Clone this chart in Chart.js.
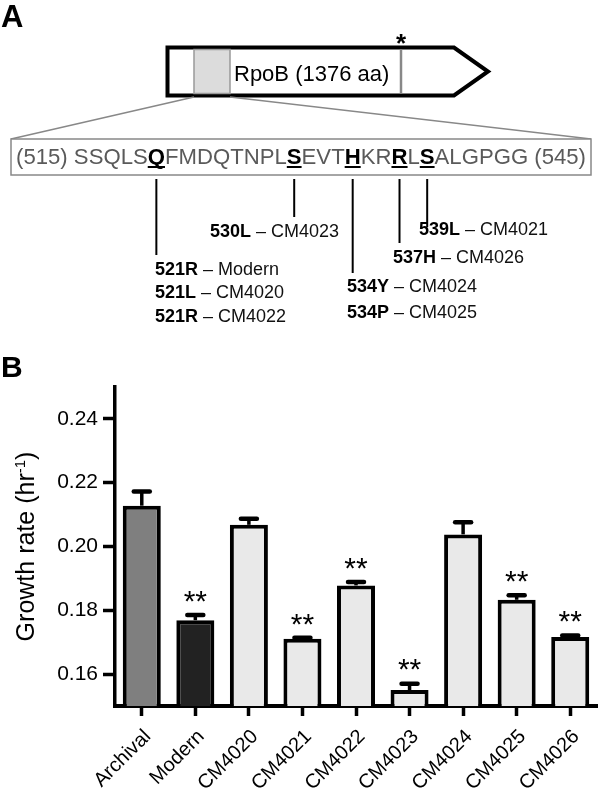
<!DOCTYPE html>
<html>
<head>
<meta charset="utf-8">
<script src="https://cdn.jsdelivr.net/npm/chart.js@4.4.1/dist/chart.umd.min.js"></script>
<style>
  body { margin: 0; background: #fff; }
  #page { position: relative; width: 600px; height: 788px; font-family: 'Liberation Sans', Arial, sans-serif; }
  #panelB { position: absolute; left: 0; top: 330px; }
  svg { position: absolute; left: 0; top: 0; }
</style>
</head>
<body>
<div id="page">
  <canvas id="panelB" width="600" height="458"></canvas>
  <svg id="panelA" width="600" height="788" font-family="Liberation Sans, Arial, sans-serif">
    <text x="1" y="27" font-size="31" font-weight="bold">A</text>
    <text x="1" y="377" font-size="30" font-weight="bold">B</text>

    <!-- gene arrow -->
    <polygon points="167.5,47.5 454,47.5 488,71.5 454,95.5 167.5,95.5" fill="#fff" stroke="#000" stroke-width="4" stroke-linejoin="miter"/>
    <rect x="194" y="49.5" width="36" height="44" fill="#dcdcdc" stroke="#999" stroke-width="1.5"/>
    <line x1="401" y1="49.5" x2="401" y2="93.5" stroke="#888" stroke-width="2.5"/>
    <text x="234" y="81" font-size="22">RpoB (1376 aa)</text>
    <text x="401" y="52" font-size="26" font-weight="bold" text-anchor="middle">*</text>

    <!-- zoom lines -->
    <line x1="194" y1="97" x2="11" y2="139" stroke="#888" stroke-width="1.5"/>
    <line x1="230" y1="97" x2="591" y2="139" stroke="#888" stroke-width="1.5"/>
    <rect x="11" y="139" width="580" height="36" fill="#fff" stroke="#888" stroke-width="1.5"/>
    <text id="seq" x="16" y="164" font-size="22" fill="#5a5a5a" textLength="570" lengthAdjust="spacingAndGlyphs">(515) SSQLS<tspan class="mut" data-end="255" font-weight="bold" fill="#000">Q</tspan>FMDQTNPL<tspan class="mut" data-end="217" font-weight="bold" fill="#000">S</tspan>EVT<tspan class="mut" data-end="273" font-weight="bold" fill="#000">H</tspan>KR<tspan class="mut" data-end="243" font-weight="bold" fill="#000">R</tspan>L<tspan class="mut" data-end="227" font-weight="bold" fill="#000">S</tspan>ALGPGG (545)</text>
    <g id="marks"></g>

    <g font-size="18" fill="#111">
      <text x="210" y="237"><tspan font-weight="bold" fill="#000">530L</tspan> – CM4023</text>
      <text x="419" y="235"><tspan font-weight="bold" fill="#000">539L</tspan> – CM4021</text>
      <text x="393" y="263"><tspan font-weight="bold" fill="#000">537H</tspan> – CM4026</text>
      <text x="155" y="275"><tspan font-weight="bold" fill="#000">521R</tspan> – Modern</text>
      <text x="155" y="298"><tspan font-weight="bold" fill="#000">521L</tspan> – CM4020</text>
      <text x="155" y="322"><tspan font-weight="bold" fill="#000">521R</tspan> – CM4022</text>
      <text x="347" y="292"><tspan font-weight="bold" fill="#000">534Y</tspan> – CM4024</text>
      <text x="347" y="318"><tspan font-weight="bold" fill="#000">534P</tspan> – CM4025</text>
    </g>
  </svg>
</div>
<script>
// panel B data
const strains = ['Archival', 'Modern', 'CM4020', 'CM4021', 'CM4022', 'CM4023', 'CM4024', 'CM4025', 'CM4026'];
const growthRate = [0.2128, 0.1769, 0.2068, 0.1711, 0.1878, 0.1550, 0.2038, 0.1833, 0.1716];
const growthErr = [0.0051, 0.0023, 0.0026, 0.0010, 0.0018, 0.0027, 0.0045, 0.0021, 0.0012];
const stars = ['', '**', '', '**', '**', '**', '', '**', '**'];
const yTicks = [0.16, 0.18, 0.20, 0.22, 0.24];

const fills = ['#7f7f7f', '#222222', '#e9e9e9', '#e9e9e9', '#e9e9e9', '#e9e9e9', '#e9e9e9', '#e9e9e9', '#e9e9e9'];
const FONT = "'Liberation Sans', Arial, sans-serif";

// underline the mutated residues and hang the lines from them
const svgNS = 'http://www.w3.org/2000/svg';
const marks = document.getElementById('marks');
document.querySelectorAll('#seq .mut').forEach(el => {
  const bb = el.getBBox();
  const cx = bb.x + bb.width / 2;
  const u = document.createElementNS(svgNS, 'rect');
  u.setAttribute('x', bb.x);
  u.setAttribute('y', 166);
  u.setAttribute('width', bb.width);
  u.setAttribute('height', 2);
  marks.appendChild(u);
  const l = document.createElementNS(svgNS, 'line');
  l.setAttribute('x1', cx);
  l.setAttribute('x2', cx);
  l.setAttribute('y1', 179);
  l.setAttribute('y2', el.dataset.end);
  l.setAttribute('stroke', '#000');
  l.setAttribute('stroke-width', 2);
  marks.appendChild(l);
});

const errorBars = {
  id: 'errorBars',
  afterDatasetsDraw(chart) {
    const ctx = chart.ctx;
    const y = chart.scales.y;
    chart.getDatasetMeta(0).data.forEach((bar, i) => {
      const top = y.getPixelForValue(growthRate[i] + growthErr[i]);
      ctx.save();
      ctx.strokeStyle = '#000';
      ctx.lineWidth = 3.5;
      ctx.beginPath();
      ctx.moveTo(bar.x, bar.y);
      ctx.lineTo(bar.x, top + 2);
      ctx.stroke();
      ctx.lineWidth = 4.5;
      ctx.lineCap = 'round';
      ctx.beginPath();
      ctx.moveTo(bar.x - 8, top + 2.2);
      ctx.lineTo(bar.x + 8, top + 2.2);
      ctx.stroke();
      if (stars[i]) {
        ctx.fillStyle = '#000';
        ctx.font = '30px ' + FONT;
        ctx.textAlign = 'center';
        ctx.textBaseline = 'alphabetic';
        ctx.fillText(stars[i], bar.x, top - 2);
      }
      ctx.restore();
    });
  }
};

const yTitle = {
  id: 'yTitle',
  afterDraw(chart) {
    const ctx = chart.ctx;
    const area = chart.chartArea;
    ctx.save();
    ctx.translate(34, (area.top + area.bottom) / 2);
    ctx.rotate(-Math.PI / 2);
    ctx.fillStyle = '#000';
    ctx.textBaseline = 'alphabetic';
    ctx.textAlign = 'left';
    const main = 'Growth rate (hr';
    const sup = '-1';
    const close = ')';
    ctx.font = '25px ' + FONT;
    const wMain = ctx.measureText(main).width;
    const wClose = ctx.measureText(close).width;
    ctx.font = '15px ' + FONT;
    const wSup = ctx.measureText(sup).width;
    let x = -(wMain + wSup + wClose) / 2;
    ctx.font = '25px ' + FONT;
    ctx.fillText(main, x, 0);
    x += wMain;
    ctx.font = '15px ' + FONT;
    ctx.fillText(sup, x, -9);
    x += wSup;
    ctx.font = '25px ' + FONT;
    ctx.fillText(close, x, 0);
    ctx.restore();
  }
};

new Chart(document.getElementById('panelB').getContext('2d'), {
  type: 'bar',
  data: {
    labels: strains,
    datasets: [
      {
        data: growthRate,
        backgroundColor: fills,
        borderColor: '#000',
        borderWidth: 4,
        barPercentage: 0.71,
        categoryPercentage: 1,
      },
    ],
  },
  options: {
    responsive: false,
    animation: false,
    layout: { padding: { top: 57, right: 3, left: 0, bottom: 0 } },
    plugins: { legend: { display: false }, tooltip: { enabled: false } },
    scales: {
      x: {
        afterFit: s => { s.height = 82; },
        grid: { display: true, drawOnChartArea: false, offset: false, tickLength: 10, tickWidth: 3.5, tickColor: '#000' },
        border: { display: true, width: 4, color: '#000' },
        ticks: { color: '#000', font: { family: FONT, size: 20 }, minRotation: 45, maxRotation: 45, padding: 9, labelOffset: 6 },
      },
      y: {
        min: 0.15,
        max: 0.25,
        afterFit: s => { s.width = 115; },
        afterBuildTicks: s => { s.ticks = yTicks.map(v => ({ value: v })); },
        grid: { display: true, drawOnChartArea: false, tickLength: 12, tickWidth: 3.5, tickColor: '#000' },
        border: { display: true, width: 3.5, color: '#000' },
        ticks: { color: '#000', font: { family: FONT, size: 21 }, padding: 5, callback: v => v.toFixed(2) },
      },
    },
  },
  plugins: [errorBars, yTitle],
});
</script>
</body>
</html>
